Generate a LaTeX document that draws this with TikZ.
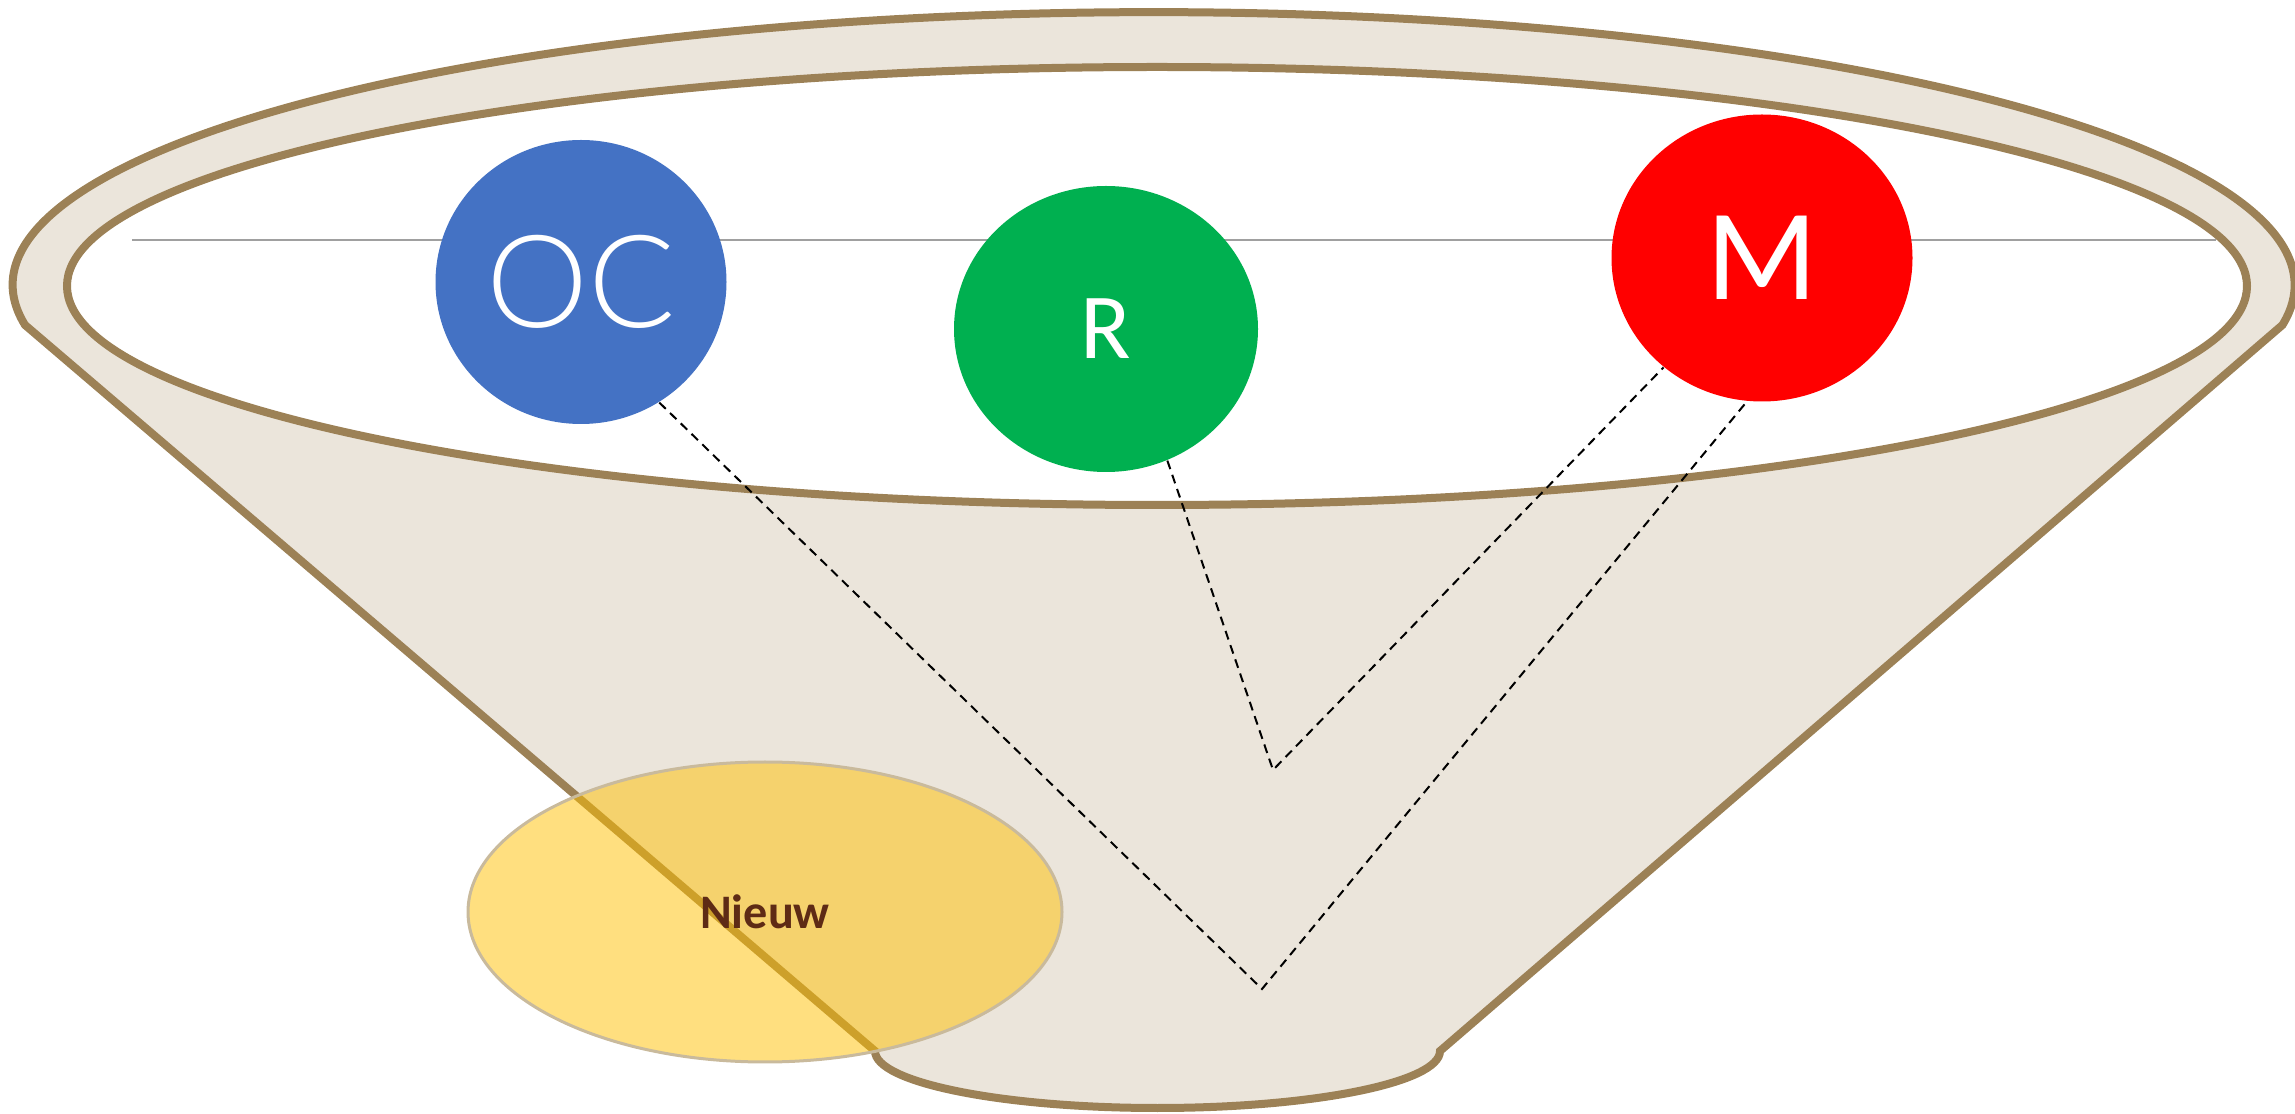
\documentclass[tikz,border=0pt]{standalone}
\usepackage{fontspec}
\setmainfont{Carlito}
\newfontfamily\thinfont{Lato}[UprightFont={* Light}]
\usetikzlibrary{shapes.geometric}
\definecolor{rim}{HTML}{9C8156}
\definecolor{funnelbeige}{HTML}{EBE5DB}
\definecolor{ocblue}{HTML}{4472C4}
\definecolor{rgreen}{HTML}{00B050}
\definecolor{mred}{HTML}{FF0000}
\definecolor{gold}{HTML}{FFC000}
\definecolor{nieuwborder}{HTML}{C9BA9C}
\definecolor{nieuwtext}{HTML}{5E2B15}
\definecolor{axisgray}{HTML}{A0A0A0}
\begin{document}
\begin{tikzpicture}[x=0.1mm,y=-0.1mm,
  rimline/.style={draw=rim, line width=0.8mm},
  bubble/.style={ellipse, inner sep=0pt, text=white},
  link/.style={draw=black, line width=0.2mm, dash pattern=on 0.9mm off 0.6mm}]
\useasboundingbox (0,0) rectangle (2295,1114);
% funnel body
\draw[rimline, fill=funnelbeige] (25,325)
  arc[start angle=171.6, end angle=368.4, x radius=1141, y radius=273]
  -- (1440,1051)
  arc[start angle=0, end angle=180, x radius=282.5, y radius=57]
  -- cycle;
% inner opening
\draw[rimline, fill=white] (1157,286) ellipse [x radius=1090, y radius=219];
% horizontal axis line
\draw[axisgray, line width=0.2mm] (132,240) -- (2216,240);
% bubbles
\node[bubble, fill=ocblue, minimum width=29.1mm, minimum height=28.4mm,
  font=\thinfont\fontsize{36.7}{40}\selectfont] (OC) at (581,282) {OC};
\node[bubble, fill=rgreen, minimum width=30.4mm, minimum height=28.6mm,
  font=\fontsize{26.5}{30}\selectfont] (R) at (1106,329) {R};
\node[bubble, fill=mred, minimum width=30.1mm, minimum height=28.7mm,
  font=\fontsize{37}{40}\selectfont] (M) at (1762,258) {M};
% dashed connectors
\coordinate (V1) at (1273,770);
\coordinate (V2) at (1262,989);
\draw[link] (OC.-57) -- (V2) -- (M.-96);
\draw[link] (R.-65) -- (V1) -- (M.-132);
% new
\node[ellipse, inner sep=0pt, fill=gold, fill opacity=0.5, text opacity=1,
  draw=nieuwborder, line width=0.3mm, minimum width=59.4mm, minimum height=30mm,
  text=nieuwtext, font=\bfseries\fontsize{13.7}{16}\selectfont] (N) at (765,912) {Nieuw};
\end{tikzpicture}
\end{document}
